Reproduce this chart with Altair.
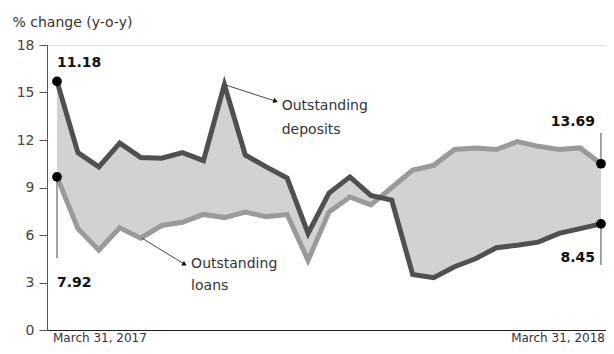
import altair as alt
import pandas as pd

# ---- data ----
deposits = [15.7, 11.2, 10.3, 11.8, 10.9, 10.85, 11.2, 10.7, 15.5, 11.05, 10.3, 9.6, 6.1,
            8.65, 9.67, 8.5, 8.2, 3.5, 3.3, 4.0, 4.5, 5.2, 5.35, 5.55, 6.1, 6.4, 6.7]
loans = [9.67, 6.4, 5.05, 6.45, 5.8, 6.6, 6.8, 7.3, 7.1, 7.45, 7.15, 7.3, 4.4,
         7.45, 8.4, 7.9, 9.0, 10.1, 10.4, 11.4, 11.5, 11.4, 11.9, 11.6, 11.4, 11.5, 10.5]
date_labels = ["March 31, 2017", "March 31, 2018"]
start_labels = ["11.18", "7.92"]
end_labels = ["13.69", "8.45"]
y_ticks = [0, 3, 6, 9, 12, 15, 18]

n = len(deposits)
last = n - 1
df = pd.DataFrame({"idx": list(range(n)), "deposits": deposits, "loans": loans})

FONT = "DejaVu Sans"
TXT = "#333333"

xs = alt.Scale(domain=[-0.478, last + 0.24], nice=False, zero=False)
ys = alt.Scale(domain=[0, 18], nice=False)

X = alt.X("idx:Q", scale=xs, axis=alt.Axis(ticks=False, labels=False, grid=False, title=None,
                                           domainColor="#222", domainWidth=1.2))
Y = alt.Y("deposits:Q", scale=ys,
          axis=alt.Axis(values=y_ticks, grid=False, title="% change (y-o-y)", titleAngle=0,
                        titleAlign="left", titleBaseline="middle", titleX=-35, titleY=-23,
                        titleFont=FONT, titleFontSize=14, titleFontWeight="normal", titleColor=TXT,
                        labelFont=FONT, labelFontSize=14, labelColor="#444", labelPadding=5,
                        tickSize=8, tickColor="#555", domainColor="#555", domainWidth=1))

area = alt.Chart(df).mark_area(color="#d2d2d2", opacity=1).encode(
    x=X, y=Y, y2="loans:Q")

line_loans = alt.Chart(df).mark_line(color="#9a9a9a", strokeWidth=5).encode(
    x=alt.X("idx:Q", scale=xs), y=alt.Y("loans:Q", scale=ys))
line_dep = alt.Chart(df).mark_line(color="#505050", strokeWidth=5).encode(
    x=alt.X("idx:Q", scale=xs), y=alt.Y("deposits:Q", scale=ys))

# end points
pts = pd.DataFrame({
    "x": [0, 0, last, last],
    "y": [deposits[0], loans[0], loans[last], deposits[last]],
})
dots = alt.Chart(pts).mark_circle(color="black", size=95, opacity=1).encode(
    x=alt.X("x:Q", scale=xs), y=alt.Y("y:Q", scale=ys))

# leader lines
leaders = pd.DataFrame({
    "x": [0, last, last],
    "y": [loans[0], loans[last], deposits[last]],
    "y2": [4.55, 12.44, 4.1],
})
lead = alt.Chart(leaders).mark_rule(color="#666", strokeWidth=1.2).encode(
    x=alt.X("x:Q", scale=xs), y=alt.Y("y:Q", scale=ys), y2="y2:Q")

# value labels
vl_left = pd.DataFrame({"x": [0, 0], "y": [16.87, 2.97], "t": start_labels, "dx": [6, -7]})
vleft = alt.Chart(vl_left).mark_text(font=FONT, fontSize=14, fontWeight="bold", color="#111",
                                     align="left", baseline="middle").encode(
    x=alt.X("x:Q", scale=xs), y=alt.Y("y:Q", scale=ys), text="t:N", xOffset="dx:Q")
vl_right = pd.DataFrame({"x": [last, last], "y": [13.14, 4.55], "t": end_labels})
vright = alt.Chart(vl_right).mark_text(font=FONT, fontSize=14, fontWeight="bold", color="#111",
                                       align="right", baseline="middle", dx=-6).encode(
    x=alt.X("x:Q", scale=xs), y=alt.Y("y:Q", scale=ys), text="t:N")

# arrows
arr = pd.DataFrame({
    "x": [8.05, 4.05], "y": [15.48, 5.81],
    "x2": [10.45, 6.1], "y2": [14.45, 4.15],
    "ang": [18, 31],
})
arrow_lines = alt.Chart(arr).mark_rule(color="#444", strokeWidth=1).encode(
    x=alt.X("x:Q", scale=xs), y=alt.Y("y:Q", scale=ys), x2="x2:Q", y2="y2:Q")
arrow_heads = alt.Chart(arr).mark_point(shape="triangle-right", filled=True, color="#111",
                                        size=30, opacity=1).encode(
    x=alt.X("x2:Q", scale=xs), y=alt.Y("y2:Q", scale=ys), angle=alt.Angle("ang:Q", scale=None))

series_lbl = pd.DataFrame({
    "x": [10.74, 10.74, 6.41, 6.41],
    "y": [14.15, 12.65, 4.2, 2.8],
    "t": ["Outstanding", "deposits", "Outstanding", "loans"],
})
slbl = alt.Chart(series_lbl).mark_text(font=FONT, fontSize=14, color=TXT, align="left",
                                       baseline="middle").encode(
    x=alt.X("x:Q", scale=xs), y=alt.Y("y:Q", scale=ys), text="t:N")

dates = pd.DataFrame({"x": [0, last], "t": date_labels})
d1 = alt.Chart(dates.iloc[[0]]).mark_text(font=FONT, fontSize=12, color=TXT, align="left",
                                          baseline="middle", dx=-4).encode(
    x=alt.X("x:Q", scale=xs), y=alt.value(293), text="t:N")
d2 = alt.Chart(dates.iloc[[1]]).mark_text(font=FONT, fontSize=12, color=TXT, align="right",
                                          baseline="middle", dx=4).encode(
    x=alt.X("x:Q", scale=xs), y=alt.value(293), text="t:N")

chart = alt.layer(area, line_loans, line_dep, lead, arrow_lines, arrow_heads, dots,
                  vleft, vright, slbl, d1, d2).properties(
    width=559, height=285,
    autosize=alt.AutoSizeParams(type="none"),
    padding={"left": 39, "top": 37, "right": 0, "bottom": 16},
).configure_view(stroke=None).configure(background="white")

chart.save("out.html", embed_options={"renderer": "svg", "actions": False})
